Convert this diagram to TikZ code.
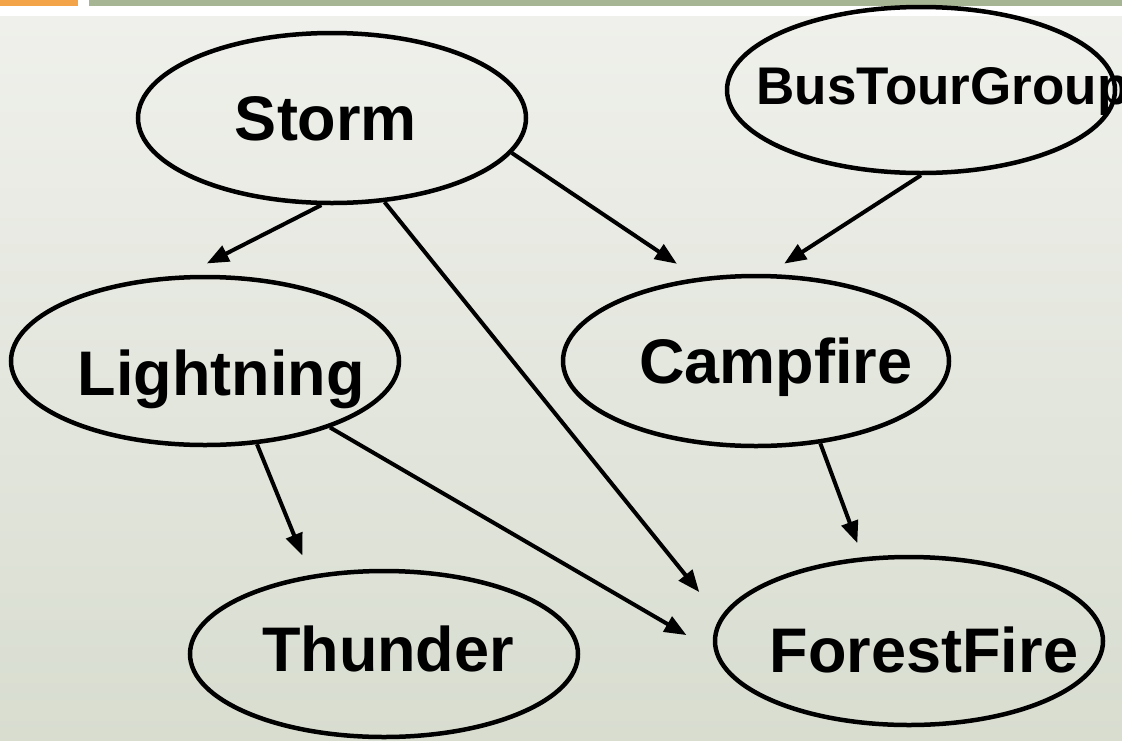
\documentclass[tikz,border=0pt]{standalone}
\usepackage{fontspec}
\setmainfont{Liberation Sans}
\usepackage{tikz}
\usetikzlibrary{arrows.meta, shapes.geometric}
\definecolor{bgtop}{HTML}{EFF0EB}
\definecolor{bgbot}{HTML}{D8DDD0}
\definecolor{barorange}{HTML}{F4A448}
\definecolor{bargreen}{HTML}{A6B593}

\begin{document}
\begin{tikzpicture}[x=1pt, y=-1pt, var/.style={ellipse,draw,line width=4.5pt,minimum width=388pt,minimum height=170pt,inner sep=0pt}, varname/.style={font=\bfseries\fontsize{63}{63}\selectfont,text height=45pt,text depth=0pt,inner sep=0pt}, varsmall/.style={font=\bfseries\fontsize{53}{53}\selectfont,text height=38pt,text depth=0pt,inner sep=0pt}, link/.style={line width=4pt,-{Triangle[length=22pt,width=17pt]}}]
        \useasboundingbox (0,0) rectangle (1122,740);
        \fill[white] (0,0) rectangle (1122,740);
        \fill[top color=bgtop, bottom color=bgbot] (0,16) rectangle (1122,740);
        \fill[barorange] (0,0) rectangle (78,6);
        \fill[bargreen] (89,0) rectangle (1122,6);
        % variables
        \node[var, label={[varname, xshift=-6pt]center:Storm}] (storm) at (332,118) {};
        \node[var, minimum height=166pt, label={[varsmall, xshift=22pt, yshift=4.5pt]center:BusTourGroup}] (bus) at (921,90) {};
        \node[var, minimum height=168pt, label={[varname, xshift=16pt, yshift=-12pt]center:Lightning}] (light) at (205,361) {};
        \node[var, minimum width=386pt, label={[varname, xshift=20pt]center:Campfire}] (camp) at (756,361) {};
        \node[var, minimum height=166pt, label={[varname, xshift=4pt, yshift=5pt]center:Thunder}] (thunder) at (384,654) {};
        \node[var, minimum height=168pt, label={[varname, xshift=15pt, yshift=-9pt]center:ForestFire}] (fire) at (909,641) {};
        % links
        \draw[link, shorten >=26pt] (storm.263) -- (light.104);
        \draw[link, shorten >=33pt] (storm.302) -- (fire.173);
        \draw[link, shorten >=25pt] (storm.349.5) -- (camp.125);
        \draw[link, shorten >=19pt] (bus.south) -- (camp.82);
        \draw[link, shorten >=21pt] (light.302) -- (thunder.133);
        \draw[link, shorten >=32pt] (light.332) -- (fire.183);
        \draw[link, shorten >=15pt] (camp.308) -- (fire.119);
    \end{tikzpicture}
\end{document}
